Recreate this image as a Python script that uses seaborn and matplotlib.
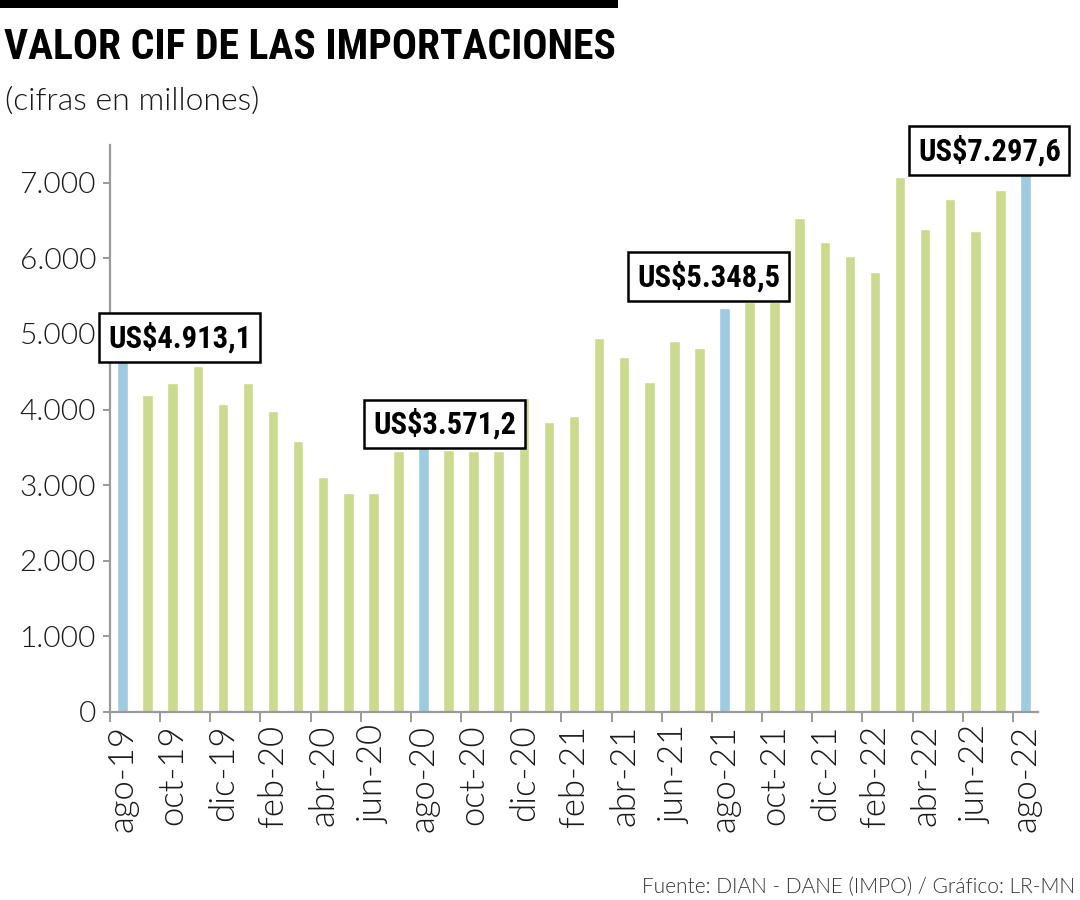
import numpy as np
import pandas as pd
import matplotlib
matplotlib.use("Agg")
import matplotlib.pyplot as plt
import seaborn as sns
from matplotlib.patches import Rectangle

# ---------------- data ----------------
months = ["ago-19", "sep-19", "oct-19", "nov-19", "dic-19", "ene-20", "feb-20", "mar-20",
          "abr-20", "may-20", "jun-20", "jul-20", "ago-20", "sep-20", "oct-20", "nov-20",
          "dic-20", "ene-21", "feb-21", "mar-21", "abr-21", "may-21", "jun-21", "jul-21",
          "ago-21", "sep-21", "oct-21", "nov-21", "dic-21", "ene-22", "feb-22", "mar-22",
          "abr-22", "may-22", "jun-22", "jul-22", "ago-22"]
values = [4913.1, 4190, 4350, 4580, 4080, 4350, 3980, 3590,
          3110, 2900, 2900, 3450, 3571.2, 3460, 3450, 3450,
          4160, 3840, 3910, 4950, 4690, 4370, 4910, 4810,
          5348.5, 5420, 5420, 6540, 6220, 6030, 5820, 7080,
          6390, 6790, 6360, 6900, 7297.6]
highlight_months = ["ago-19", "ago-20", "ago-21", "ago-22"]
highlight_labels = ["US$4.913,1", "US$3.571,2", "US$5.348,5", "US$7.297,6"]
label_offsets_px = [(57, 3), (21, 18), (-16, 31), (-36, 10)]
tick_labels = months[::2]
yticks = [0, 1000, 2000, 3000, 4000, 5000, 6000, 7000]
ytick_labels = ["0", "1.000", "2.000", "3.000", "4.000", "5.000", "6.000", "7.000"]

title = "VALOR CIF DE LAS IMPORTACIONES"
subtitle = "(cifras en millones)"
source = "Fuente: DIAN - DANE (IMPO) / Gráfico: LR-MN"

GREEN = "#cbda8e"
BLUE = "#9fcbe0"
GREY = "#9a9a9a"
TXT = "#1a1a1a"

df = pd.DataFrame({"mes": months, "valor": values})
df["tipo"] = np.where(df["mes"].isin(highlight_months), "dest", "norm")

sns.set_theme(style="white")
LIGHT = ["Lato", "Roboto", "DejaVu Sans"]
COND = ["Liberation Sans Narrow", "Roboto Condensed", "DejaVu Sans"]
plt.rcParams["font.family"] = LIGHT
LW = 300

fig = plt.figure(figsize=(10.8, 9), dpi=100)
ax = fig.add_axes([110 / 1080, 1 - 712 / 900, (1038 - 110) / 1080, (712 - 145) / 900])

sns.barplot(data=df, x="mes", y="valor", hue="tipo", order=months,
            palette={"dest": BLUE, "norm": GREEN}, dodge=False, width=0.42,
            legend=False, ax=ax, saturation=1)

ax.set_xlim(-0.5, 36.5)
ax.set_ylim(0, 7500)
ax.set_xlabel("")
ax.set_ylabel("")

for s in ["top", "right"]:
    ax.spines[s].set_visible(False)
for s in ["left", "bottom"]:
    ax.spines[s].set_color(GREY)
    ax.spines[s].set_linewidth(1.6)

ax.set_yticks(yticks)
ax.set_yticklabels(ytick_labels, fontsize=21.5, fontweight=LW, family=LIGHT, color=TXT)
ax.tick_params(axis="y", which="major", direction="out", length=5, width=1.4, color=GREY, pad=5, left=True)

ax.set_xticks(range(0, len(months), 2))
ax.set_xticklabels(tick_labels, rotation=90, fontsize=25, fontweight=LW, family=LIGHT, color=TXT)
ax.set_xticks(np.arange(-0.5, len(months) - 1, 2), minor=True)
ax.tick_params(axis="x", which="major", length=0, pad=9, bottom=True)
ax.tick_params(axis="x", which="minor", direction="out", length=7, width=1.4, color=GREY, bottom=True)

for m, lab, (dx, dy) in zip(highlight_months, highlight_labels, label_offsets_px):
    i = months.index(m)
    v = values[i]
    ax.annotate(lab, xy=(i, v), xytext=(dx, dy), textcoords="offset pixels",
                ha="center", va="center", fontsize=22, fontweight="bold", family=COND,
                color="black", zorder=5,
                bbox=dict(boxstyle="square,pad=0.28", facecolor="white", edgecolor="black", linewidth=1.8))

# header bar & texts
fig.patches.append(Rectangle((0, 1 - 8 / 900), 618 / 1080, 8 / 900, transform=fig.transFigure,
                             facecolor="black", edgecolor="none"))
fig.text(4 / 1080, 1 - 59 / 900, title, fontsize=30, fontweight="bold", family=COND,
         ha="left", va="baseline", color="black")
fig.text(5 / 1080, 1 - 110 / 900, subtitle, fontsize=23, fontweight=LW, family=LIGHT,
         ha="left", va="baseline", color=TXT)
fig.text(1075 / 1080, 1 - 893 / 900, source, fontsize=15, fontweight=LW, family=LIGHT,
         ha="right", va="baseline", color="#333333")

fig.savefig("out.png", dpi=100)
